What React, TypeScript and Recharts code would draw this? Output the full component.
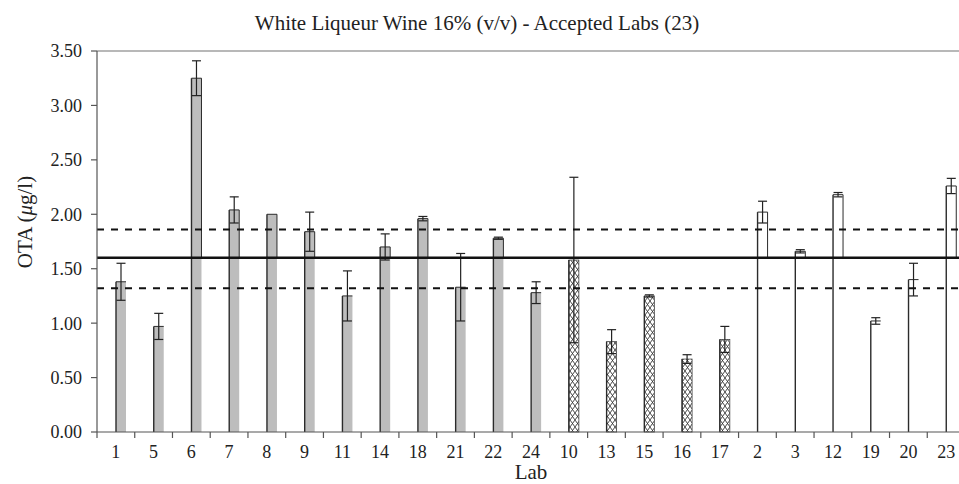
import React from "react";
import {
  BarChart,
  Bar,
  XAxis,
  YAxis,
  ErrorBar,
  ReferenceLine,
} from "recharts";

// lab order as printed on the x axis (grouped by method)
const labs = ["1", "5", "6", "7", "8", "9", "11", "14", "18", "21", "22", "24", "10", "13", "15", "16", "17", "2", "3", "12", "19", "20", "23"];
const means = [1.38, 0.97, 3.25, 2.04, 2.0, 1.84, 1.25, 1.7, 1.96, 1.33, 1.78, 1.28, 1.58, 0.83, 1.25, 0.67, 0.85, 2.02, 1.66, 2.18, 1.02, 1.4, 2.26];
const errors = [0.17, 0.12, 0.16, 0.12, 0, 0.18, 0.23, 0.12, 0.02, 0.31, 0.01, 0.1, 0.76, 0.11, 0.01, 0.04, 0.12, 0.1, 0.015, 0.02, 0.03, 0.15, 0.07];
const groups = [
  "gray", "gray", "gray", "gray", "gray", "gray", "gray", "gray", "gray", "gray", "gray", "gray",
  "hatch", "hatch", "hatch", "hatch", "hatch",
  "open", "open", "open", "open", "open", "open",
];
const yTicks = [0, 0.5, 1, 1.5, 2, 2.5, 3, 3.5];

const ASSIGNED = 1.6;
const UPPER = 1.86;
const LOWER = 1.32;

const data = labs.map((lab, i) => ({
  lab,
  pad: 0,
  ota: means[i],
  err: errors[i],
  group: groups[i],
}));

const FONT = "'Liberation Serif', 'Times New Roman', Times, serif";
const EDGE = "#2b2b2b";

function LabBar(props: any) {
  const { x, y, width, height, payload, value } = props;
  if (!height || height <= 0) return null;
  const v = Array.isArray(value) ? value[1] : value;
  const perUnit = height / v;
  const meanY = y + height - ASSIGNED * perUnit;
  const above = v > ASSIGNED;

  if (payload.group === "hatch") {
    return (
      <g>
        <rect x={x} y={y} width={width} height={height} fill="url(#xhatch)" stroke="#444" strokeWidth={0.8} />
        <line x1={x} x2={x} y1={y} y2={y + height} stroke={EDGE} strokeWidth={1.4} />
      </g>
    );
  }

  const fill = payload.group === "gray" ? "#bdbdbd" : "#ffffff";
  return (
    <g>
      <rect x={x} y={y} width={width} height={height} fill={fill} />
      <line x1={x} x2={x} y1={y} y2={y + height} stroke={EDGE} strokeWidth={1.4} />
      <line x1={x} x2={x + width} y1={y} y2={y} stroke={EDGE} strokeWidth={1} />
      {above && (
        <line x1={x + width} x2={x + width} y1={y} y2={meanY} stroke={EDGE} strokeWidth={1} />
      )}
    </g>
  );
}

function LabTick(props: any) {
  const { x, y, payload } = props;
  const half = payload && typeof payload.offset === "number" ? payload.offset : 18.87;
  const axisY = y - 13;
  return (
    <g>
      <line x1={x - half} x2={x - half} y1={axisY} y2={axisY + 6} stroke="#555" strokeWidth={1.2} />
      <text x={x} y={y} dy="0.71em" textAnchor="middle" fontSize={18} fontFamily={FONT} fill="#222">
        {payload.value}
      </text>
    </g>
  );
}

export default function App() {
  return (
    <div
      style={{
        position: "relative",
        width: 959,
        height: 484,
        overflow: "hidden",
        background: "#fff",
      }}
    >
      <style>{"body{margin:0}"}</style>
      <svg
        width={959}
        height={40}
        style={{ position: "absolute", left: 0, top: 0, pointerEvents: "none" }}
      >
        <text x={477} y={30} textAnchor="middle" fontSize={21} fontFamily={FONT} fill="#222">
          White Liqueur Wine 16% (v/v) - Accepted Labs (23)
        </text>
      </svg>

      <BarChart
        width={975}
        height={490}
        data={data}
        barSize={10}
        barGap={0}
        margin={{ top: 51, right: 10, bottom: 28, left: 0 }}
      >
        <defs>
          <pattern id="xhatch" patternUnits="userSpaceOnUse" width={5} height={7}>
            <rect width={5} height={7} fill="#fff" />
            <path d="M0,0 L5,7 M5,0 L0,7" stroke="#333" strokeWidth={0.9} />
          </pattern>
        </defs>
        <XAxis
          dataKey="lab"
          height={30}
          interval={0}
          tickLine={false}
          tickSize={6}
          tickMargin={7}
          axisLine={{ stroke: "#555", strokeWidth: 1.2 }}
          tick={<LabTick />}
          label={{
            content: (p: any) => {
              const vb = p.viewBox || {};
              return (
                <text
                  x={vb.x + vb.width / 2}
                  y={vb.y + 47}
                  textAnchor="middle"
                  fontSize={21}
                  fontFamily={FONT}
                  fill="#222"
                >
                  Lab
                </text>
              );
            },
          }}
        />
        <YAxis
          width={97}
          domain={[0, 3.5]}
          ticks={yTicks}
          tickFormatter={(v: number) => v.toFixed(2)}
          tickSize={6}
          tickMargin={9}
          axisLine={{ stroke: "#555", strokeWidth: 1.2 }}
          tickLine={{ stroke: "#555", strokeWidth: 1.2 }}
          tick={{ fontSize: 18, fontFamily: FONT, fill: "#222" }}
          label={{
            content: () => (
              <text
                transform="translate(32, 222) rotate(-90)"
                textAnchor="middle"
                fontSize={21}
                fontFamily={FONT}
                fill="#222"
              >
                OTA (<tspan fontStyle="italic">μ</tspan>g/l)
              </text>
            ),
          }}
        />
        <Bar dataKey="pad" fill="none" isAnimationActive={false} />
        <Bar dataKey="ota" shape={<LabBar />} isAnimationActive={false}>
          <ErrorBar dataKey="err" direction="y" width={4.5} stroke="#222" strokeWidth={1.2} />
        </Bar>
        <ReferenceLine y={3.5} stroke="#b8b8b8" strokeWidth={2} />
        <ReferenceLine y={UPPER} stroke="#111" strokeWidth={2} strokeDasharray="7 7" />
        <ReferenceLine y={LOWER} stroke="#111" strokeWidth={2} strokeDasharray="7 7" />
        <ReferenceLine y={ASSIGNED} stroke="#111" strokeWidth={2.5} />
      </BarChart>
    </div>
  );
}
